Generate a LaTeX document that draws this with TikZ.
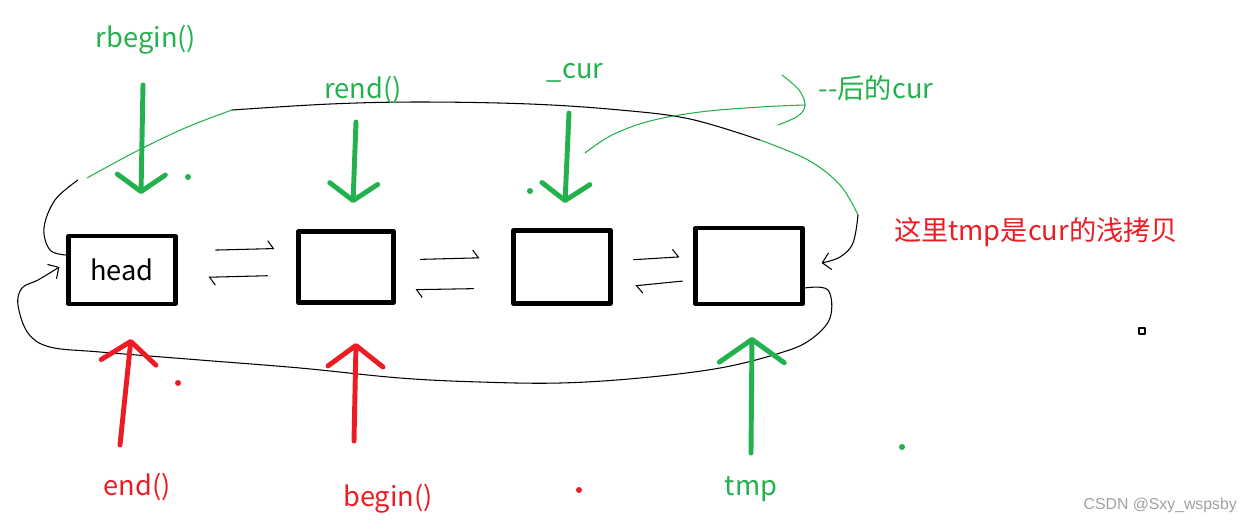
\documentclass[tikz,border=0pt]{standalone}
\usepackage{fontspec}
\usepackage{tikz}
\usetikzlibrary{arrows.meta,positioning,calc}
\newfontfamily\cjk{Noto Sans CJK SC}
\definecolor{pgreen}{HTML}{22B14C}
\definecolor{pred}{HTML}{ED1C24}
\definecolor{wmgray}{HTML}{A0A0A0}
\tikzset{
    every picture/.style={line cap=round,line join=round},
    cell/.style={draw=black,line width=2.4pt,fill=white,inner sep=0pt,
      font=\cjk\fontsize{15.5}{18}\selectfont},
    gtext/.style={text=pgreen,inner sep=1pt,font=\cjk\fontsize{15.5}{18}\selectfont},
    rtext/.style={text=pred,inner sep=1pt,font=\cjk\fontsize{15.5}{18}\selectfont},
    gptr/.style={draw=pgreen,line width=2.8pt,
      -{Straight Barb[length=3.4mm,width=9.6mm,round]}},
    rptr/.style={draw=pred,line width=2.8pt,
      -{Straight Barb[length=4.2mm,width=11mm,round]}},
    link/.style={draw=black,line width=0.6pt,
      -{Straight Barb[left,length=1.1mm,width=3.2mm]}},
    loopline/.style={draw=black,line width=0.6pt},
    loopend/.style={-{Straight Barb[length=1.6mm,width=3.4mm]}},
    dot/.style={inner sep=0pt,minimum size=0.12cm,circle}
}
\begin{document}
\begin{tikzpicture}[x=0.02cm,y=-0.02cm]
    \useasboundingbox (0,0) rectangle (1258,522);
    % list nodes
    \node[cell,minimum width=2.14cm,minimum height=1.36cm] (head) at (122,270) {head};
    \node[cell,minimum width=1.9cm,minimum height=1.42cm] (n2) at (346,267) {};
    \node[cell,minimum width=1.94cm,minimum height=1.46cm] (n3) at (562,267) {};
    \node[cell,minimum width=2.14cm,minimum height=1.52cm] (n4) at (749,266) {};

    % prev / next links
    \draw[link,shorten <=0.76cm,shorten >=0.44cm] ([yshift=0.38cm]head.east) -- ([yshift=0.38cm]n2.west);
    \draw[link,shorten <=0.58cm,shorten >=0.62cm] ([yshift=-0.16cm]n2.west) -- ([yshift=-0.16cm]head.east);
    \draw[link,shorten <=0.5cm,shorten >=0.64cm] ([yshift=0.14cm]n2.east) -- ([yshift=0.2cm]n3.west);
    \draw[link,shorten <=0.76cm,shorten >=0.4cm] ([yshift=-0.42cm]n3.west) -- ([yshift=-0.46cm]n2.east);
    \draw[link,shorten <=0.42cm,shorten >=0.28cm] ([yshift=0.12cm]n3.east) -- ([yshift=0.2cm]n4.west);
    \draw[link,shorten <=0.22cm,shorten >=0.46cm] ([yshift=-0.28cm]n4.west) -- ([yshift=-0.42cm]n3.east);

    % head -> last, drawn over the top
    \draw[loopline] plot[smooth,tension=0.6] coordinates {([yshift=0.3cm]head.west) (50,250) (44,228) (55,200) (78,180)};
    \draw[loopline,draw=pgreen] plot[smooth,tension=0.6] coordinates {(87,178) (135,152) (185,128) (232,110)};
    \draw[loopline] plot[smooth,tension=0.6] coordinates {(232,110) (330,104) (420,102) (530,104) (620,110) (690,119) (760,140)};
    \draw[loopline,draw=pgreen] plot[smooth,tension=0.6] coordinates {(760,140) (808,160) (840,185) (858,215)};
    \draw[loopline,loopend] plot[smooth,tension=0.6] coordinates {(858,215) (853,243) (840,257) ([xshift=0.34cm,yshift=0.06cm]n4.east)};

    % last -> head, drawn under the bottom
    \draw[loopline,loopend] plot[smooth,tension=0.6] coordinates {([yshift=-0.44cm]n4.east) (828,290) (830,318) (810,340) (780,353) (720,368) (640,378) (560,383) (480,382) (400,378) (300,368) (200,360) (100,352) (50,347) (28,333) (18,305) (22,288) (38,280) ([xshift=-0.14cm,yshift=0.06cm]head.west)};

    % iterators
    \node[gtext] (rbeginlbl) at (146,40) {rbegin()};
    \node[gtext] (rendlbl) at (363,90) {rend()};
    \node[gtext] (curlbl) at (575,73) {\_cur};
    \node[gtext] (afterlbl) at (876,88) {--后的cur};
    \node[rtext] (endlbl) at (137,487) {end()};
    \node[rtext] (beginlbl) at (388,499) {begin()};
    \node[gtext] (tmplbl) at (751,489) {tmp};
    \node[rtext] (note) at (1036,232) {这里tmp是cur的浅拷贝};
    \node[text=wmgray,font=\fontspec{Liberation Sans}\fontsize{9}{11}\selectfont,anchor=east] (wm) at (1243,505) {CSDN @Sxy\_wspsby};

    \draw[gptr] (143,85) coordinate (rb-top) -- (141,194) coordinate (rb-tip);
    \draw[gptr] (356,122) coordinate (re-top) -- (353,203) coordinate (re-tip);
    \draw[gptr] (569,113) coordinate (cu-top) -- (565,203) coordinate (cu-tip);
    \draw[rptr] (120,445) coordinate (en-bot) -- (131,339) coordinate (en-tip);
    \draw[rptr] (354,441) coordinate (be-bot) -- (356,343) coordinate (be-tip);
    \draw[gptr,-{Straight Barb[length=4.6mm,width=13mm,round]}] (751,453) coordinate (tm-bot) -- (752,337) coordinate (tm-tip);

    % the bracket pointing back at _cur
    \draw[loopline,draw=pgreen] plot[smooth,tension=0.6] coordinates {(782,75) (799,90) (805,105) (798,116) (778,125)};
    \draw[loopline,draw=pgreen] plot[smooth,tension=0.6] coordinates {(805,105) (760,107) (700,112) (650,121) (612,135) (585,153)};

    % stray marks
    \node[dot,fill=pgreen] (d1) at (188,177) {};
    \node[dot,fill=pgreen] (d2) at (530,191) {};
    \node[dot,fill=pred] (d3) at (178,383) {};
    \node[dot,fill=pred] (d4) at (579,490) {};
    \node[dot,fill=pgreen] (d5) at (902,447) {};
    \draw[line width=0.6pt] (1139,328) rectangle (1145,334);
\end{tikzpicture}
\end{document}
